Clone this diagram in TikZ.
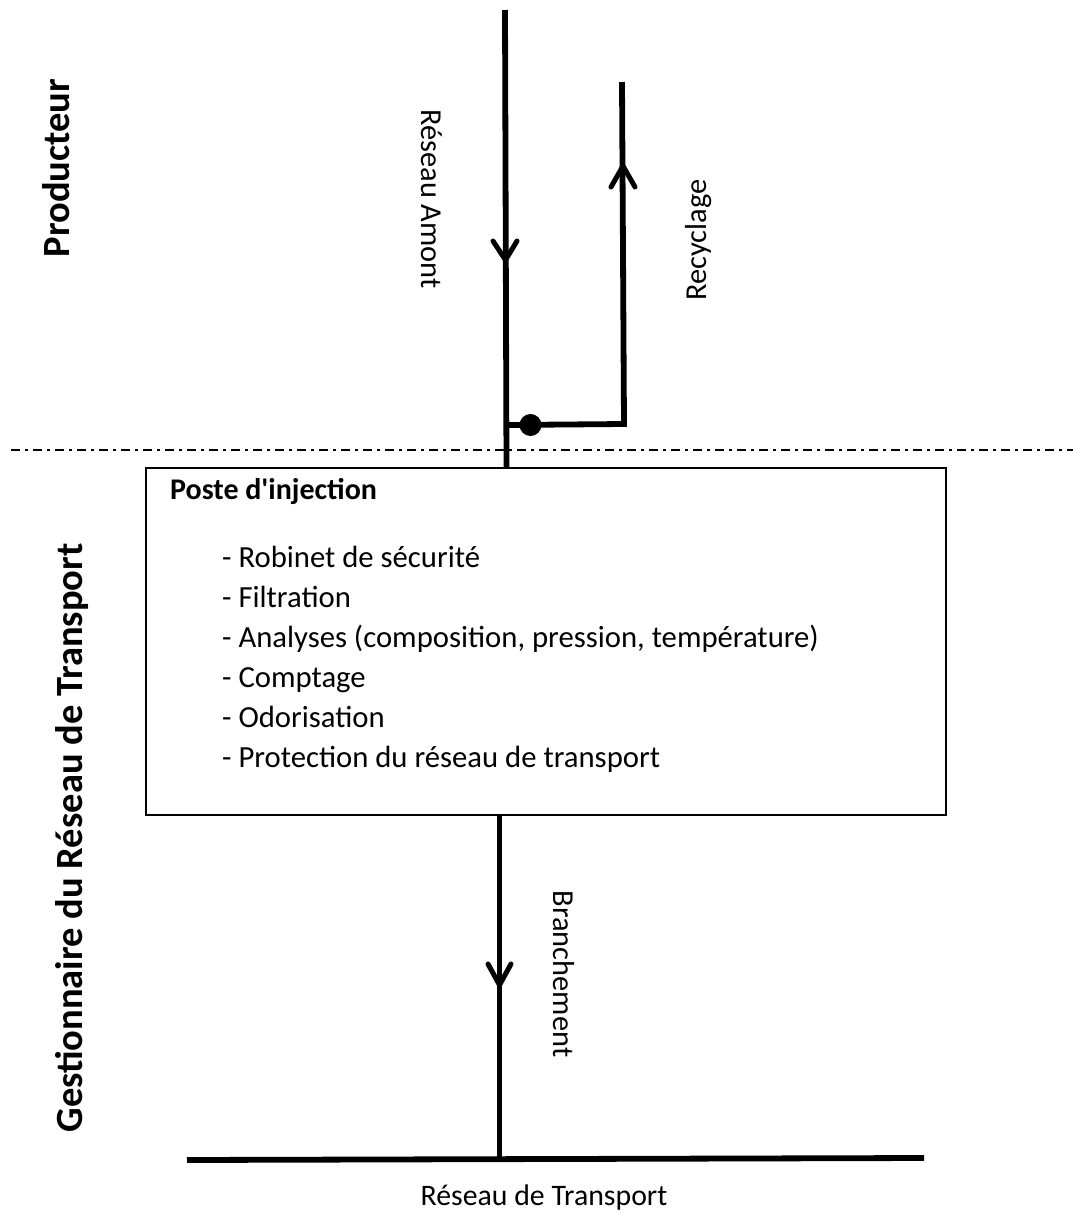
\documentclass[tikz,border=0pt]{standalone}
\usepackage{fontspec}
\setmainfont{Carlito}
\tikzset{
  pipe/.style={line width=5.8pt,black},
  head/.style={line width=5pt,line cap=round,line join=miter,black},
  lbl/.style={inner sep=0pt,font=\fontsize{30.4}{30.4}\selectfont},
  bold/.style={inner sep=0pt,font=\fontsize{38.5}{38.5}\selectfont\bfseries},
  item/.style={inner sep=0pt,anchor=base west,font=\fontsize{30.7}{30.7}\selectfont},
}
\begin{document}
\begin{tikzpicture}[x=1pt,y=-1pt]
\useasboundingbox (0,0) rectangle (1073,1213);
\coordinate (amontTop) at (505,10);
\coordinate (amontBot) at (506.5,468);
\coordinate (amontHead) at (505.5,260);
\coordinate (recTop) at (622,82);
\coordinate (recHead) at (623,166);
\coordinate (recCorner) at (624,424);
\coordinate (recStart) at (507,425);
\coordinate (brHead) at (499.5,985);
\coordinate (tL) at (187,1160);
\coordinate (tR) at (924,1158);
\coordinate (tJ) at (499.5,1159);
\coordinate (dashL) at (11,450);
\coordinate (dashR) at (1073,450);
\draw[line width=1.5pt,dash pattern=on 9pt off 5pt on 3pt off 5pt] (dashL) -- (dashR);
\draw[pipe] (amontTop) -- (amontBot);
\draw[pipe,line join=miter] (recTop) -- (recCorner) -- (recStart);
\node[fill=black,circle,inner sep=0pt,minimum size=22pt] (valve) at (530.5,425) {};
\draw[head] (493,241) -- (amontHead) -- (517,241);
\draw[head] (611,187) -- (recHead) -- (635,187);
\node[draw=black,line width=1.8pt,minimum width=800pt,minimum height=347pt,inner sep=0pt] (box) at (546,641.5) {};
\draw[pipe] (box.south -| tJ) -- (tJ);
\draw[head] (488,964) -- (brHead) -- (511,964);
\draw[pipe] (tL) -- (tR);
\node[lbl,rotate=-90] (lamont) at (432,199) {Réseau Amont};
\node[lbl,rotate=90] (lrec) at (699,240) {Recyclage};
\node[lbl,rotate=-90] (lbr) at (564,974) {Branchement};
\node[lbl,font=\fontsize{29.8}{29.8}\selectfont] (ltr) at (544,1198) {Réseau de Transport};
\node[bold,rotate=90] (lprod) at (56,168) {Producteur};
\node[bold,rotate=90] (lgest) at (72,838) {Gestionnaire du Réseau de Transport};
\node[item,font=\fontsize{30}{30}\selectfont\bfseries] (ptitle) at (170,499) {Poste d\textquotesingle injection};
\node[item] (i1) at (222,567) {- Robinet de sécurité};
\node[item] (i2) at (222,607) {- Filtration};
\node[item] (i3) at (222,647) {- Analyses (composition, pression, température)};
\node[item] (i4) at (222,687) {- Comptage};
\node[item] (i5) at (222,727) {- Odorisation};
\node[item] (i6) at (222,767) {- Protection du réseau de transport};
\end{tikzpicture}
\end{document}
